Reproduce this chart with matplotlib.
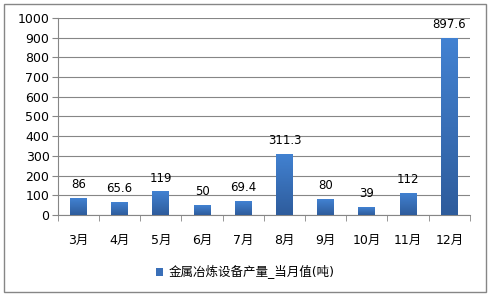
import numpy as np
import matplotlib.pyplot as plt
from matplotlib.patches import Rectangle
from matplotlib.colors import LinearSegmentedColormap

plt.rcParams['font.family'] = ['DejaVu Sans', 'Noto Sans CJK SC']

months = ['3月', '4月', '5月', '6月', '7月', '8月', '9月', '10月', '11月', '12月']
values = [86, 65.6, 119, 50, 69.4, 311.3, 80, 39, 112, 897.6]
labels = ['86', '65.6', '119', '50', '69.4', '311.3', '80', '39', '112', '897.6']
series_name = '金属冶炼设备产量_当月值(吨)'

fig = plt.figure(figsize=(4.9, 2.96), dpi=100)
ax = fig.add_axes([0.118, 0.274, 0.841, 0.665])

x = list(range(len(months)))
bars = ax.bar(x, values, width=0.41, color='#3a6fb8', zorder=3, label=series_name)

# vertical gradient inside each bar, lighter at the top
cmap = LinearSegmentedColormap.from_list('bar', ['#2e5c9c', '#4282d2'])
grad = np.linspace(0, 1, 256).reshape(-1, 1)
for b in bars:
    x0, w, h = b.get_x(), b.get_width(), b.get_height()
    im = ax.imshow(grad, cmap=cmap, origin='lower', aspect='auto',
                   extent=[x0, x0 + w, 0, h], zorder=3.5)
    im.set_clip_path(b)

for b, t in zip(bars, labels):
    ax.annotate(t, (b.get_x() + b.get_width() / 2, b.get_height()),
                xytext=(0, 5), textcoords='offset points',
                ha='center', va='bottom', fontsize=8.5)

ax.set_xlim(-0.5, len(months) - 0.5)
ax.set_ylim(0, 1000)
ax.set_yticks(range(0, 1001, 100))
ax.grid(axis='y', color='#868686', linewidth=0.8, zorder=0)

ax.set_xticks(x)
ax.set_xticklabels(months, fontsize=9)
ax.set_xticks([i - 0.5 for i in range(len(months) + 1)], minor=True)
ax.tick_params(axis='x', which='major', length=0, pad=14)
ax.tick_params(axis='x', which='minor', length=4, color='#868686', direction='out')
ax.tick_params(axis='y', length=4, color='#868686', labelsize=9, pad=2)

for s in ['top', 'right']:
    ax.spines[s].set_visible(False)
for s in ['left', 'bottom']:
    ax.spines[s].set_color('#868686')

fig.legend(loc='center', bbox_to_anchor=(0.5, 0.08), frameon=False, fontsize=9,
           handlelength=0.6, handleheight=0.6, handletextpad=0.4)

fig.patches.append(Rectangle((4 / 490, 4 / 296), 482 / 490, 288 / 296,
                             transform=fig.transFigure, fill=False,
                             edgecolor='#868686', linewidth=1))

fig.savefig('out.png', dpi=100)
